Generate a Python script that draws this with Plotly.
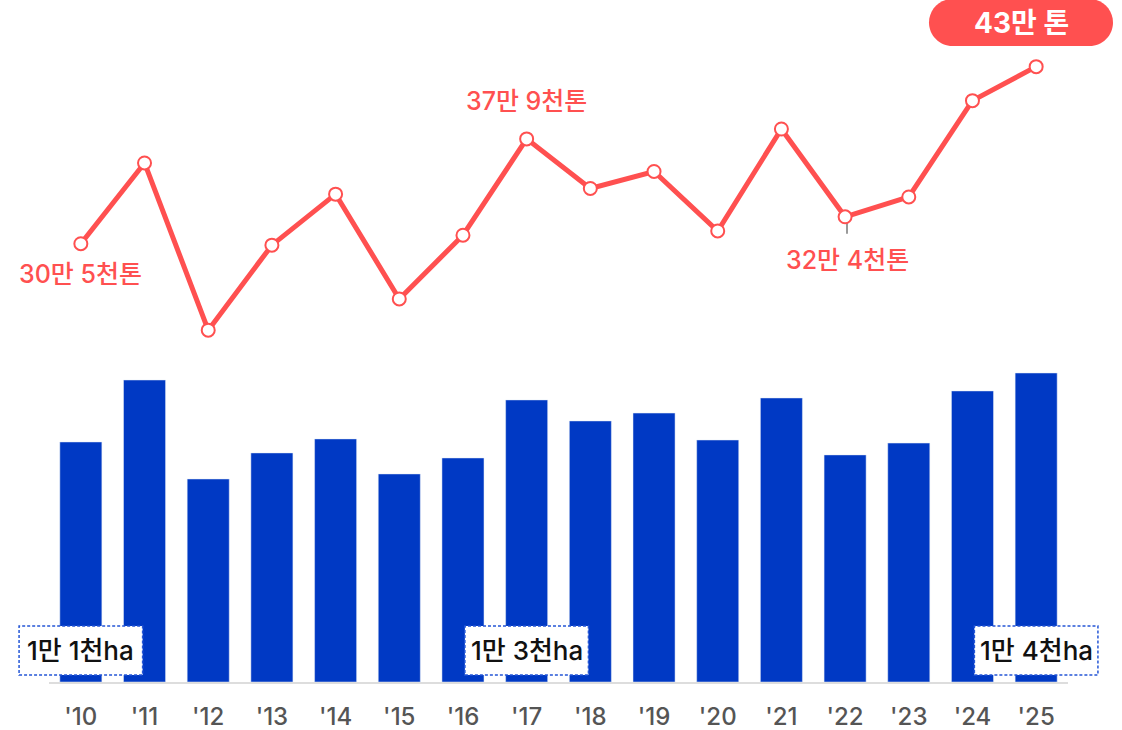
import plotly.graph_objects as go

# data
years = ["'10", "'11", "'12", "'13", "'14", "'15", "'16", "'17",
         "'18", "'19", "'20", "'21", "'22", "'23", "'24", "'25"]
area_ha = [10960, 13790, 9270, 10460, 11100, 9500, 10230, 12880,
           11920, 12280, 11050, 12970, 10370, 10910, 13290, 14110]
output_kt = [305, 362, 244, 304, 340, 266, 311, 379,
             344, 356, 314, 386, 324, 338, 406, 430]

line_labels = {0: "30만 5천톤", 7: "37만 9천톤", 12: "32만 4천톤"}
area_labels = {0: "1만 1천ha", 7: "1만 3천ha", 15: "1만 4천ha"}
peak_label = "43만 톤"

RED = "#FF5050"
BLUE = "#0039C4"
FONT = "Inter, 'Noto Sans CJK KR', sans-serif"

# plot box in pixels
W, H = 1122, 730
L, R, T, B = 49, 54, 10, 48
PW, PH = W - L - R, H - T - B
N = len(years)


def px(x, y):
    return (x - L) / PW, (H - B - y) / PH


fig = go.Figure()

fig.add_trace(go.Bar(
    x=years, y=area_ha, marker_color=BLUE, width=0.66,
    yaxis="y", hoverinfo="skip",
))

fig.add_trace(go.Scatter(
    x=years, y=output_kt, yaxis="y2", mode="lines+markers",
    line=dict(color=RED, width=5),
    marker=dict(size=13, color="white", line=dict(color=RED, width=2)),
    hoverinfo="skip",
))

annotations = []
shapes = []

# line value labels (pixel offset from the point)
label_shift = {0: -30, 7: 38, 12: -43}
for i, txt in line_labels.items():
    annotations.append(dict(
        x=years[i], y=output_kt[i], xref="x", yref="y2", text=txt,
        showarrow=False, yshift=label_shift[i],
        xshift=2 if i == 12 else 0,
        font=dict(family=FONT, size=25, color=RED, weight=500),
    ))

# small gray tick under the '22 point
kt_per_px = (470 - (-4.4)) / PH
shapes.append(dict(
    type="line", xref="x", yref="y2", layer="below",
    x0=12.03, x1=12.03, y0=output_kt[12], y1=output_kt[12] - 17 * kt_per_px,
    line=dict(color="#9a9a9a", width=2),
))

# pill label above the last point
x0, x1, y0, y1 = 929, 1113, -1, 46
r = (y1 - y0) / 2
k = 0.5523 * r
pts = [
    ("M", [(x0 + r, y0)]),
    ("L", [(x1 - r, y0)]),
    ("C", [(x1 - r + k, y0), (x1, y0 + r - k), (x1, y0 + r)]),
    ("C", [(x1, y0 + r + k), (x1 - r + k, y1), (x1 - r, y1)]),
    ("L", [(x0 + r, y1)]),
    ("C", [(x0 + r - k, y1), (x0, y0 + r + k), (x0, y0 + r)]),
    ("C", [(x0, y0 + r - k), (x0 + r - k, y0), (x0 + r, y0)]),
]
path = ""
for cmd, plist in pts:
    path += cmd + " " + " ".join("%.5f,%.5f" % px(a, b) for a, b in plist) + " "
path += "Z"
shapes.append(dict(type="path", xref="paper", yref="paper", path=path,
                   fillcolor=RED, line=dict(width=0)))
cx, cy = px((x0 + x1) / 2, 23)
annotations.append(dict(
    x=cx, y=cy, xref="paper", yref="paper", text="<b>%s</b>" % peak_label,
    xanchor="center", yanchor="middle", showarrow=False,
    font=dict(family=FONT, size=28, color="white"),
))

# dashed area boxes at the bottom
by0 = px(0, 675)[1]
by1 = px(0, 626)[1]
for i, txt in area_labels.items():
    shapes.append(dict(
        type="rect", xref="paper", yref="paper",
        x0=(i + 0.5 - 0.97) / N, x1=(i + 0.5 + 0.97) / N, y0=by0, y1=by1,
        fillcolor="white", line=dict(color="#2456D6", width=1.5, dash="3px,2px"),
    ))
    annotations.append(dict(
        x=(i + 0.5) / N, y=(by0 + by1) / 2, xref="paper", yref="paper", text=txt,
        xanchor="center", yanchor="middle", showarrow=False,
        font=dict(family=FONT, size=26, color="#111111", weight=500),
    ))

fig.update_layout(
    width=W, height=H,
    margin=dict(l=L, r=R, t=T, b=B),
    paper_bgcolor="white", plot_bgcolor="white",
    showlegend=False,
    font=dict(family=FONT),
    xaxis=dict(
        type="category", range=[-0.5, 15.5], showgrid=False, automargin=False,
        showline=True, linecolor="#dddddd", linewidth=2, ticks="",
        tickfont=dict(family=FONT, size=24, color="#555555", weight=500),
        ticklabelstandoff=12,
    ),
    yaxis=dict(range=[0, PH / 0.0219], visible=False, showgrid=False),
    yaxis2=dict(range=[-4.4, 470], overlaying="y", visible=False, showgrid=False),
    shapes=shapes,
    annotations=annotations,
)

# the page has a default 8px body margin; drop it so the figure sits at 0,0
fig.write_html("out.html", config={"displayModeBar": False},
               post_script="document.body.style.margin='0';")
